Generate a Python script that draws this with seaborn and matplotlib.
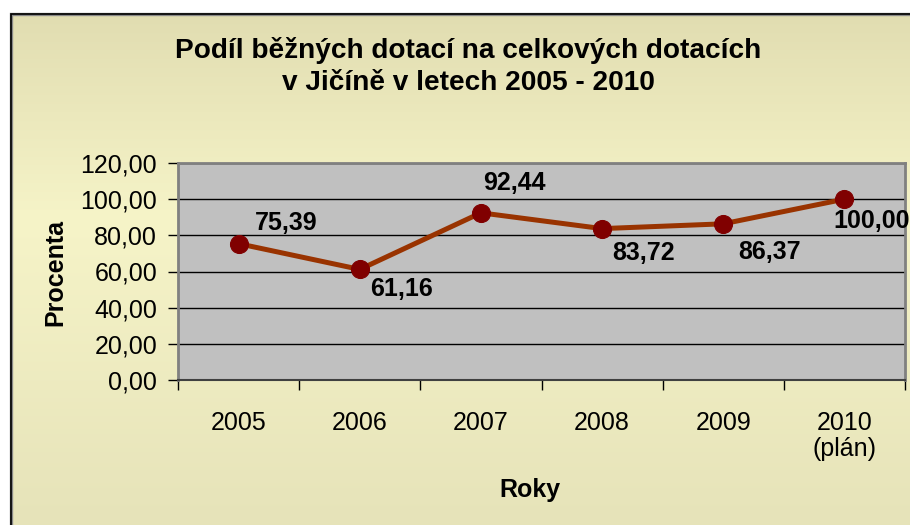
import numpy as np
import pandas as pd
import matplotlib
matplotlib.use("Agg")
import matplotlib.pyplot as plt
import seaborn as sns
from matplotlib.colors import LinearSegmentedColormap
from matplotlib.patches import Rectangle

# data
years = ["2005", "2006", "2007", "2008", "2009", "2010"]
year_labels = ["2005", "2006", "2007", "2008", "2009", "2010\n(plán)"]
share = [75.39, 61.16, 92.44, 83.72, 86.37, 100.00]
value_labels = ["75,39", "61,16", "92,44", "83,72", "86,37", "100,00"]

# label offsets (pixels right / up from the marker)
label_offsets = [(48, 21), (42, -20), (33, 30), (41, -24), (46, -28), (27, -22)]

sns.set_theme(style="white")
plt.rcParams["font.family"] = ["Liberation Sans", "DejaVu Sans"]
for key in ["text.color", "axes.labelcolor", "xtick.color", "ytick.color"]:
    plt.rcParams[key] = "black"

df = pd.DataFrame({"Rok": years, "Procenta": share})

fig = plt.figure(figsize=(9.1, 5.25), dpi=100, facecolor="white")
W, H = 910, 525

# yellowish gradient background inside the chart border
bg = fig.add_axes([0, 0, 1, 1], zorder=-10)
bg.set_xlim(0, 1)
bg.set_ylim(0, 1)
bg.axis("off")
cmap = LinearSegmentedColormap.from_list(
    "bg", [(0.0, "#e6e3b9"), (0.6, "#f6f4c8"), (1.0, "#e1ddb1")])
grad = np.linspace(0, 1, 256).reshape(-1, 1)
top = 1 - 14 / H
bg.imshow(grad, cmap=cmap, aspect="auto", origin="lower",
          extent=[11 / W, 1, 0, top], interpolation="bicubic")
bg.add_patch(Rectangle((11 / W, -0.1), 1.1, top + 0.1, fill=False,
                       edgecolor="#888888", lw=2.4))
bg.add_patch(Rectangle((11 / W, -0.1), 1.1, top + 0.1, fill=False,
                       edgecolor="black", lw=1.2))

ax = fig.add_axes([178 / W, 1 - 380 / H, 727 / W, 217 / H])
ax.set_facecolor("#c0c0c0")

sns.lineplot(data=df, x="Rok", y="Procenta", ax=ax, color="#993300",
             lw=3.6, marker="o", markersize=13, markerfacecolor="#800000",
             markeredgecolor="#800000", zorder=5)

for i, (v, lab) in enumerate(zip(share, value_labels)):
    dx, dy = label_offsets[i]
    ax.annotate(lab, (i, v), xytext=(dx * 0.72, dy * 0.72),
                textcoords="offset points", ha="center", va="center",
                fontsize=18, fontweight="bold", color="black",
                annotation_clip=False, zorder=6)

ax.set_ylim(0, 120)
ax.set_yticks(np.arange(0, 121, 20))
ax.set_yticklabels([f"{t},00" for t in range(0, 121, 20)], fontsize=18)
ax.yaxis.grid(True, color="black", lw=1)
ax.set_axisbelow(True)

ax.set_xlim(-0.5, len(years) - 0.5)
ax.set_xticks(np.arange(-0.5, len(years), 1))
ax.set_xticklabels([])
ax.set_xticks(range(len(years)), minor=True)
ax.set_xticklabels(year_labels, minor=True, fontsize=18, linespacing=1.15)
ax.tick_params(axis="x", which="major", direction="out", length=7,
               width=1, color="black", bottom=True)
ax.tick_params(axis="x", which="minor", length=0, pad=22)
ax.tick_params(axis="y", direction="out", length=7, width=1,
               color="black", left=True, pad=8)

for side in ["top", "right", "left"]:
    ax.spines[side].set_color("#808080")
    ax.spines[side].set_linewidth(2)
ax.spines["bottom"].set_color("#404040")
ax.spines["bottom"].set_linewidth(1.5)

ax.set_xlabel("")
ax.set_ylabel("")
fig.text(55 / W, 1 - 273 / H, "Procenta", rotation=90, ha="center",
         va="center", fontsize=18, fontweight="bold")
fig.text(530 / W, 1 - 490 / H, "Roky", ha="center", va="center",
         fontsize=18, fontweight="bold")
fig.text(468 / W, 1 - 66 / H,
         "Podíl běžných dotací na celkových dotacích\nv Jičíně v letech 2005 - 2010",
         ha="center", va="center", fontsize=20.2, fontweight="bold",
         linespacing=1.3)

fig.savefig("out.png", dpi=100)
